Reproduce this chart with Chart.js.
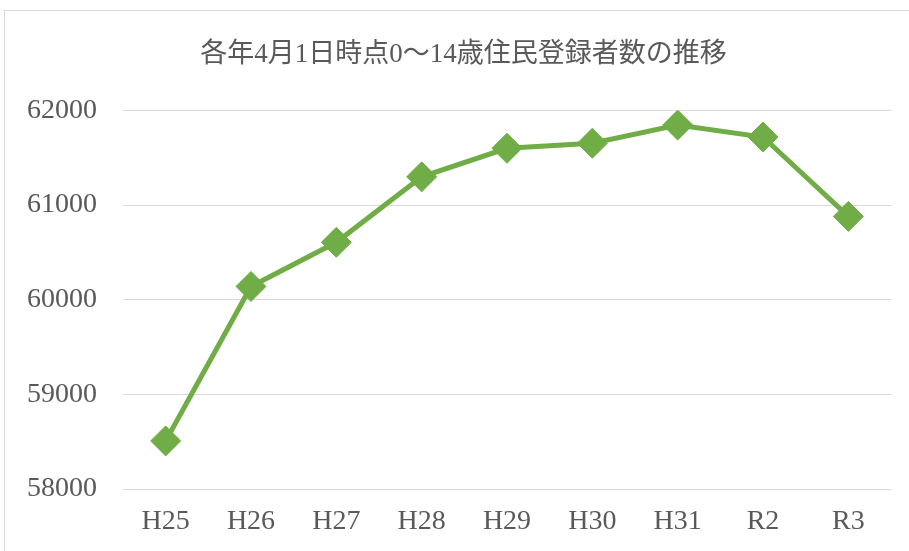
<!DOCTYPE html>
<html>
<head>
<meta charset="utf-8">
<script src="https://cdn.jsdelivr.net/npm/chart.js@4/dist/chart.umd.min.js"></script>
<style>
  html, body { margin: 0; padding: 0; background: #fff; overflow: hidden; }
  #frame { position: absolute; left: 4px; top: 10px; width: 940px; height: 580px; border: 1px solid #d9d9d9; }
  #wrap { position: absolute; left: 0; top: 0; width: 909px; height: 551px; }
</style>
</head>
<body>
<div id="frame"></div>
<div id="wrap"><canvas id="chart" width="909" height="551"></canvas></div>
<script>
const titleText = "各年4月1日時点0～14歳住民登録者数の推移";
const years = ["H25", "H26", "H27", "H28", "H29", "H30", "H31", "R2", "R3"];
const residents = [58508, 60140, 60606, 61298, 61600, 61653, 61845, 61719, 60880];
const yMin = 58000;
const yMax = 62000;
const yStep = 1000;

const textColor = "#595959";
const lineColor = "#70AD47";
const fontFamily = "'Liberation Serif', 'Noto Sans CJK JP', serif";

// nudge the title a bit to the right, like the original
const titleShift = {
    id: "titleShift",
    afterLayout(chart) {
        if (chart.titleBlock) chart.titleBlock.left += 36;
    }
};

const ctx = document.getElementById("chart").getContext("2d");
new Chart(ctx, {
    type: "line",
    data: {
        labels: years,
        datasets: [
            {
                label: "0～14歳",
                data: residents,
                borderColor: lineColor,
                backgroundColor: lineColor,
                borderWidth: 5,
                tension: 0,
                pointStyle: "rectRot",
                pointRadius: 15,
                pointBorderWidth: 1,
                pointBackgroundColor: lineColor,
                pointBorderColor: lineColor,
            },
        ],
    },
    options: {
        responsive: false,
        animation: false,
        layout: {
            padding: { left: 0, right: 18, top: 0, bottom: 0 }
        },
        plugins: {
            legend: { display: false },
            tooltip: { enabled: false },
            title: {
                display: true,
                text: titleText,
                color: textColor,
                font: { family: fontFamily, size: 27, weight: "normal" },
                padding: { top: 39, bottom: 39 }
            }
        },
        scales: {
            x: {
                offset: true,
                grid: { display: false, drawTicks: false },
                border: { display: false },
                ticks: {
                    color: textColor,
                    font: { family: fontFamily, size: 28 },
                    padding: 16,
                    maxRotation: 0
                },
                afterFit: (scale) => { scale.height = 62; }
            },
            y: {
                min: yMin,
                max: yMax,
                grid: { color: "#d9d9d9", lineWidth: 1, drawTicks: false },
                border: { display: false },
                ticks: {
                    stepSize: yStep,
                    color: textColor,
                    font: { family: fontFamily, size: 28 },
                    padding: 26,
                    callback: (v) => String(v)
                },
                afterFit: (scale) => { scale.width = 123; }
            }
        }
    },
    plugins: [titleShift]
});
</script>
</body>
</html>
